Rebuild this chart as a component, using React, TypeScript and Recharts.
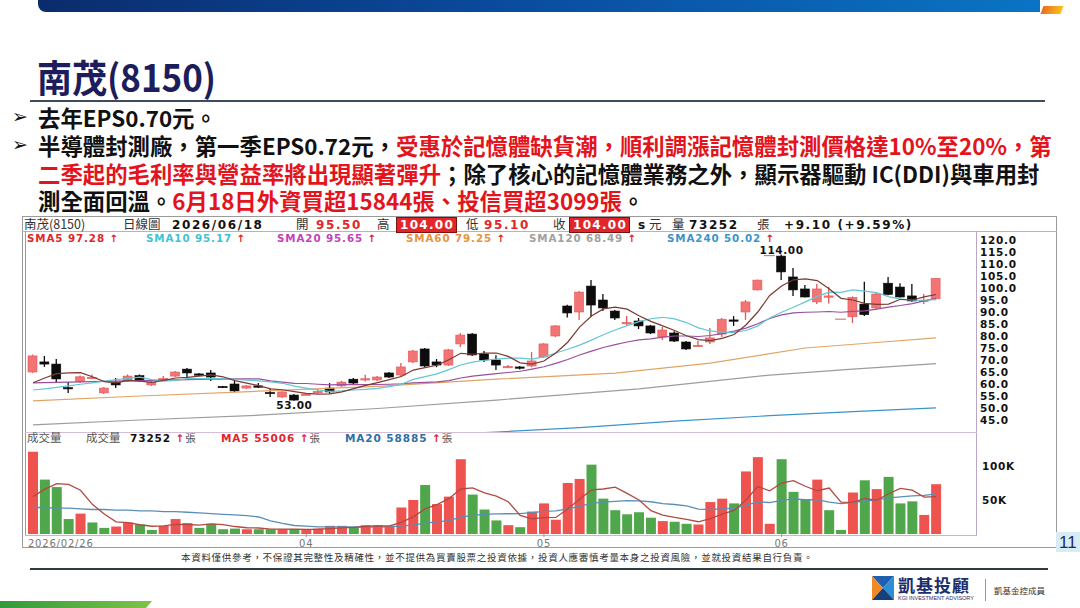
import React from "react";
import { ComposedChart, Bar, Line, XAxis, YAxis, Cell, ReferenceDot } from "recharts";

// trading days shown on the daily chart
const dates = [
  "2026/02/26",
  "2026/03/02", "2026/03/03", "2026/03/04", "2026/03/05", "2026/03/06",
  "2026/03/09", "2026/03/10", "2026/03/11", "2026/03/12", "2026/03/13",
  "2026/03/16", "2026/03/17", "2026/03/18", "2026/03/19", "2026/03/20",
  "2026/03/23", "2026/03/24", "2026/03/25", "2026/03/26", "2026/03/27",
  "2026/03/30", "2026/03/31",
  "2026/04/01", "2026/04/02", "2026/04/07", "2026/04/08", "2026/04/09",
  "2026/04/10", "2026/04/13", "2026/04/14", "2026/04/15", "2026/04/16",
  "2026/04/17", "2026/04/20", "2026/04/21", "2026/04/22", "2026/04/23",
  "2026/04/24", "2026/04/27", "2026/04/28", "2026/04/29", "2026/04/30",
  "2026/05/04", "2026/05/05", "2026/05/06", "2026/05/07", "2026/05/08",
  "2026/05/11", "2026/05/12", "2026/05/13", "2026/05/14", "2026/05/15",
  "2026/05/18", "2026/05/19", "2026/05/20", "2026/05/21", "2026/05/22",
  "2026/05/25", "2026/05/26", "2026/05/27", "2026/05/28", "2026/05/29",
  "2026/06/01", "2026/06/02", "2026/06/03", "2026/06/04", "2026/06/05",
  "2026/06/08", "2026/06/09", "2026/06/10", "2026/06/11", "2026/06/12",
  "2026/06/15", "2026/06/16", "2026/06/17", "2026/06/18",
];

const openP = [
  65, 69.2, 68.3, 58.5, 61, 62.5, 56.3, 60.8, 61.3, 63.5,
  59.6, 61.7, 63.3, 66.2, 64.2, 64.6, 59, 60, 58.3, 59.2,
  56.5, 54.6, 55.4, 55.6, 56.5, 58.3, 59.2, 62, 62, 61.7,
  64.6, 63.75, 69.2, 74.6, 69.2, 67.9, 76.7, 80.8, 72.5, 70,
  67, 67.1, 67.5, 71.25, 80, 92.5, 90, 100.8, 95, 90.4,
  85.2, 86.25, 84.2, 79.6, 81.25, 77.5, 76, 77.5, 80.8, 86.7,
  90, 99.2, 113.5, 113.3, 104.6, 99.6, 94.2, 96.3, 87, 88,
  93.3, 91.7, 102, 100.4, 96.7, 94.6, 95.5,
];
const highP = [
  72.3, 71.7, 70.4, 60.8, 63.5, 64, 58.8, 62.5, 64, 64,
  61.3, 63.3, 65.4, 66.7, 64.6, 65.8, 59.2, 61.3, 59.6, 60.4,
  58, 57, 55.8, 56, 58, 60.4, 61.3, 62.5, 63.9, 63.3,
  65, 68.75, 74.2, 75, 70.4, 74.6, 81.25, 81.25, 73.75, 72,
  67.9, 67.5, 73.3, 77, 84.5, 93, 98.75, 103.3, 97.5, 90.8,
  88.3, 87.5, 84.6, 83.75, 82, 77.9, 78, 83.3, 87.5, 88.3,
  95, 103.5, 113.5, 114, 108.3, 101.3, 101.7, 100.5, 87, 96.5,
  102.6, 98, 104.6, 102, 101.7, 97.5, 104,
];
const lowP = [
  64.6, 67.1, 60.4, 56.3, 60.4, 62, 55.8, 58.3, 61, 61,
  59.2, 61.3, 62.9, 62.9, 63.3, 61.3, 58.3, 56.7, 58, 58.3,
  54.6, 54.2, 53, 55.4, 56, 56, 58.8, 60, 61, 61.3,
  62.5, 62.9, 68.75, 67.1, 67, 67.5, 75.4, 71.7, 69.2, 65.8,
  66.7, 66, 67, 70.8, 79.6, 87.7, 86.7, 87.9, 90.4, 86.7,
  84.6, 82.9, 80.8, 78.3, 77.5, 74.2, 75.8, 76.7, 79.6, 84.2,
  86.7, 99, 113.5, 103.3, 96.7, 96, 93.3, 93.5, 87, 85.4,
  88.3, 91, 97, 96, 94.3, 93.3, 95.1,
];
const closeP = [
  71.7, 68.3, 62.1, 58.2, 63, 62.8, 58.3, 59.6, 63.3, 61.3,
  60.8, 62.3, 65, 64.6, 64, 62.9, 58.6, 57.1, 59.2, 58.8,
  56.1, 56.7, 53.3, 55.8, 56.9, 56.7, 60.8, 60.4, 62.2, 62.9,
  62.9, 67.1, 73.75, 67.5, 67.9, 74.2, 80.4, 72.1, 70, 67.9,
  67.3, 66.7, 69.6, 76.7, 84.2, 89.6, 98.3, 92.9, 91.7, 87.5,
  85.6, 84.2, 81.25, 82.5, 77.9, 74.6, 76.1, 79.2, 87, 86.25,
  94.2, 103.3, 113.5, 106.7, 99.2, 96.25, 99.6, 96.7, 87, 96.1,
  88.9, 97.5, 97.3, 96.25, 94.6, 94.9, 104,
];

const sma5 = [
  60.5, 62.5, 64.3, 64.6, 64.7, 63.0, 61.0, 60.5, 61.5, 61.2,
  60.7, 61.5, 62.5, 62.8, 63.3, 63.8, 63.0, 61.4, 60.4, 59.3,
  58.0, 57.6, 56.8, 56.1, 55.8, 55.9, 56.7, 58.1, 59.4, 60.6,
  61.8, 63.1, 65.8, 66.8, 67.8, 70.1, 72.8, 72.4, 72.9, 72.9,
  71.5, 68.8, 68.3, 69.6, 72.9, 77.4, 83.7, 88.3, 91.3, 92.0,
  91.2, 88.4, 86.1, 84.2, 82.3, 80.1, 78.5, 78.1, 79.0, 80.6,
  84.6, 90.0, 96.9, 100.8, 103.4, 103.8, 103.1, 99.7, 95.7, 95.0,
  93.6, 93.2, 93.3, 95.3, 95.0, 96.3, 97.28,
];
const sma10 = [
  57.5, 58.0, 58.6, 59.2, 59.9, 60.5, 61.2, 61.8, 62.3, 62.9,
  61.8, 61.2, 61.5, 62.2, 62.3, 62.2, 62.2, 62.0, 61.6, 61.3,
  60.9, 60.3, 59.1, 58.3, 57.5, 56.9, 57.1, 57.5, 57.8, 58.2,
  58.9, 59.9, 61.9, 63.1, 64.2, 66.0, 67.9, 69.1, 69.9, 70.4,
  70.8, 70.8, 70.4, 71.3, 72.9, 74.5, 76.2, 78.3, 80.5, 82.5,
  84.3, 86.0, 87.2, 87.8, 87.1, 85.6, 83.4, 82.1, 81.6, 81.5,
  82.3, 84.2, 87.5, 89.9, 92.0, 94.2, 96.5, 98.3, 98.2, 99.2,
  98.7, 98.1, 96.4, 95.4, 94.9, 94.9, 95.17,
];
const sma20 = [
  60.5, 60.6, 60.7, 60.8, 60.9, 61.0, 61.1, 61.2, 61.3, 61.4,
  61.5, 61.6, 61.7, 61.8, 61.9, 62.0, 62.0, 62.1, 62.1, 62.1,
  61.3, 60.8, 60.3, 60.2, 59.9, 59.6, 59.7, 59.7, 59.7, 59.8,
  59.9, 60.1, 60.5, 60.7, 60.9, 61.4, 62.5, 63.3, 63.8, 64.3,
  64.8, 65.3, 66.2, 67.2, 68.6, 70.2, 72.1, 73.7, 75.2, 76.4,
  77.5, 78.4, 78.8, 79.5, 80.0, 80.0, 79.8, 80.2, 81.0, 82.0,
  83.3, 85.1, 87.3, 88.8, 89.6, 89.9, 90.0, 90.2, 89.9, 90.3,
  90.5, 91.2, 92.0, 92.7, 93.5, 94.6, 95.65,
];
// long averages read at a few days: [day index, value]
const sma60Pts = [[0, 53], [9, 55], [19, 57], [29, 59], [39, 62], [49, 64.5], [57, 68.7], [65, 75], [71, 77.3], [76, 79.25]];
const sma120Pts = [[0, 43], [9, 45], [19, 47], [29, 49.8], [39, 53.3], [51, 58], [62, 63.7], [69, 66.2], [76, 68.49]];
const sma240Pts = [[0, 33], [14, 35], [29, 37.5], [39, 40], [46, 41.8], [54, 44.5], [62, 46.8], [69, 48.5], [76, 50.02]];

// volume in thousands of lots
const volume = [
  121, 80, 69, 22, 30, 17, 9, 11, 17, 14,
  6, 12, 22, 16, 9, 15, 7, 8, 7, 7,
  7, 7, 7, 6, 8, 12, 12, 10, 13, 13,
  11, 39, 50, 72, 44, 55, 110, 58, 36, 20,
  13, 10, 33, 45, 21, 75, 81, 102, 52, 35,
  29, 32, 24, 19, 18, 15, 14, 47, 52, 45,
  92, 113, 15, 110, 62, 51, 80, 35, 6, 61,
  79, 66, 84, 45, 48, 28, 73.252,
];
const volDir = [
  "r", "g", "g", "g", "r", "g", "g", "r", "r", "g",
  "g", "r", "r", "r", "g", "g", "g", "g", "r", "g",
  "g", "r", "g", "r", "r", "r", "r", "g", "r", "r",
  "r", "r", "r", "g", "r", "r", "r", "g", "g", "g",
  "r", "g", "r", "r", "r", "r", "r", "g", "g", "g",
  "g", "g", "g", "r", "g", "g", "r", "r", "r", "g",
  "r", "r", "r", "g", "g", "g", "r", "g", "g", "r",
  "g", "r", "g", "g", "g", "r", "r",
];
const volMa5 = [
  55, 66, 74, 73, 64.4, 43.6, 29.4, 17.8, 16.8, 13.6,
  11.4, 12, 14.2, 14, 13, 14.8, 13.8, 11, 9.2, 8.8,
  7.2, 7.2, 7, 6.8, 7, 8, 9, 9.6, 11, 12,
  11.8, 17.2, 25.2, 37, 43.2, 52, 66.2, 67.8, 60.6, 55.8,
  47.4, 27.4, 22.4, 24.2, 24.4, 36.8, 51, 64.8, 66.2, 69,
  59.8, 50, 34.4, 27.8, 24.4, 21.6, 18, 22.6, 29.2, 34.6,
  50, 69.8, 63.4, 75, 78.4, 70.2, 63.6, 67.6, 46.8, 46.6,
  52.2, 49.4, 59.2, 67, 64.4, 54.2, 55.006,
];
const volMa20 = [
  39, 39, 38, 38, 37, 36, 36, 35, 35, 34,
  34, 33, 33, 32, 31, 30, 29, 28, 27, 25,
  19.3, 15.6, 12.5, 11.7, 10.6, 10.4, 10.5, 10.5, 10.3, 10.2,
  10.5, 11.8, 13.2, 16, 17.8, 19.8, 24.9, 27.4, 28.9, 29.5,
  29.8, 30, 31.3, 33.2, 33.9, 37, 40.5, 45, 47, 48.1,
  49, 48.7, 47.4, 44.7, 43.4, 41.4, 36.6, 36, 36.9, 38.1,
  42, 47.2, 46.3, 49.6, 51.6, 50.4, 50.4, 47, 44.7, 46,
  48.5, 50.2, 53.2, 54.5, 56, 56.7, 58.885,
];

const priceTicks = [45, 50, 55, 60, 65, 70, 75, 80, 85, 90, 95, 100, 105, 110, 115, 120];
const volTicks = [50, 100];
const monthTicks = ["2026/02/26", "2026/04/01", "2026/05/04", "2026/06/01"];
const monthLabels = ["2026/02/26", "04", "05", "06"];

const maLegend = [
  { name: "SMA5", value: "97.28", color: "#e0262a", left: 27 },
  { name: "SMA10", value: "95.17", color: "#3fc3d3", left: 146 },
  { name: "SMA20", value: "95.65", color: "#c23fb8", left: 277 },
  { name: "SMA60", value: "79.25", color: "#e8923e", left: 406 },
  { name: "SMA120", value: "68.49", color: "#a0a0a0", left: 529 },
  { name: "SMA240", value: "50.02", color: "#3a94c8", left: 667 },
];

const toMap = (pts: number[][]) => new Map(pts.map(([i, v]) => [i, v]));
const m60 = toMap(sma60Pts);
const m120 = toMap(sma120Pts);
const m240 = toMap(sma240Pts);

const rows = dates.map((date, i) => ({
  date,
  open: openP[i],
  high: highP[i],
  low: lowP[i],
  close: closeP[i],
  sma5: sma5[i],
  sma10: sma10[i],
  sma20: sma20[i],
  sma60: m60.get(i),
  sma120: m120.get(i),
  sma240: m240.get(i),
  vol: volume[i],
  vma5: volMa5[i],
  vma20: volMa20[i],
}));

const chartFont = '"DejaVu Sans", Verdana, sans-serif';
const cjkFont = '"Noto Sans CJK TC", "Noto Sans", sans-serif';
const RED = "#e3141c";

function Candle(props: any) {
  const { x, y, width, height, payload } = props;
  const { open, close, high, low } = payload;
  const up = close >= open;
  const cx = x + width / 2;
  const span = high - low;
  if (!(span > 0)) {
    return <line x1={x - 1} x2={x + width + 1} y1={y} y2={y} stroke="#c98080" strokeWidth={1.2} />;
  }
  const h = Math.abs(height);
  const top = Math.min(y, y + height);
  const k = h / span;
  const py = (p: number) => top + (high - p) * k;
  const bTop = py(Math.max(open, close));
  const bh = Math.max(py(Math.min(open, close)) - bTop, 1.3);
  const stroke = up ? "#e4575a" : "#0c0c0c";
  return (
    <g>
      <line x1={cx} x2={cx} y1={top} y2={top + h} stroke={stroke} strokeWidth={1.3} />
      <rect x={x} y={bTop} width={width} height={bh} fill={up ? "#f27474" : "#0c0c0c"} stroke={stroke} strokeWidth={0.6} />
    </g>
  );
}

function PriceTick(p: any) {
  return (
    <text x={p.x + 30} y={p.y + 4} fontSize={10.5} fontWeight="bold" fontFamily={chartFont} fill="#111" letterSpacing={0.7}>
      {Number(p.payload.value).toFixed(1)}
    </text>
  );
}

function VolTick(p: any) {
  return (
    <text x={p.x + 32} y={p.y + 4} fontSize={10.5} fontWeight="bold" fontFamily={chartFont} fill="#111" letterSpacing={0.7}>
      {p.payload.value}K
    </text>
  );
}

function DateTick(p: any) {
  const i = monthTicks.indexOf(p.payload.value);
  const first = i === 0;
  return (
    <g>
      {!first && <line x1={p.x} x2={p.x} y1={p.y - 8} y2={p.y - 5} stroke="#999" />}
      <text x={first ? p.x - 5 : p.x} y={p.y + 5} textAnchor={first ? "start" : "middle"} fontSize={10} fontFamily={chartFont} fill="#777" letterSpacing={0.8}>
        {monthLabels[i]}
      </text>
    </g>
  );
}

const abs = (left: number, top: number, extra: React.CSSProperties = {}): React.CSSProperties => ({
  position: "absolute", left, top, whiteSpace: "nowrap", lineHeight: 1, ...extra,
});

function Arrow() {
  return <span style={{ color: "#e0262a" }}>↑</span>;
}

export default function App() {
  const hdr: React.CSSProperties = { fontFamily: chartFont, fontWeight: "bold", fontSize: 12, letterSpacing: 1.6 };
  const hdrCjk: React.CSSProperties = { fontFamily: cjkFont, fontSize: 12.5, color: "#333" };
  const box: React.CSSProperties = { ...hdr, background: "#e1262b", color: "#fff", padding: "1px 2px 1px 3px", letterSpacing: 1.3, border: "1px solid #7a1010" };
  const body: React.CSSProperties = { fontFamily: cjkFont, fontSize: 22.4, fontWeight: "bold", color: "#111" };
  const arrowStyle: React.CSSProperties = { fontFamily: '"DejaVu Sans"', fontSize: 19, color: "#111" };
  return (
    <div style={{ position: "absolute", left: 0, top: 0, width: 1080, height: 608, background: "#fff", overflow: "hidden" }}>
      {/* top banner */}
      <div style={{ position: "absolute", left: 38, top: 0, width: 1002, height: 12, borderBottomLeftRadius: 8, background: "linear-gradient(90deg,#0b2c6c 0%,#0a4a9c 45%,#0a74c4 100%)" }} />
      <div style={{ position: "absolute", left: 1042, top: 6, width: 20, height: 8, background: "linear-gradient(90deg,#ee6a1e,#f7c21e)", transform: "skewX(-20deg)" }} />

      {/* title */}
      <div style={abs(37, 56, { fontFamily: cjkFont, fontSize: 35, fontWeight: "bold", color: "#1d1d5c", transform: "scaleY(1.08)", transformOrigin: "left top" })}>南茂(8150)</div>
      <div style={{ position: "absolute", left: 30, top: 100, width: 1015, height: 1.5, background: "#3d4b5c" }} />

      {/* bullets */}
      <div style={abs(12, 107, arrowStyle)}>➢</div>
      <div style={abs(12, 135, arrowStyle)}>➢</div>
      <div style={abs(38, 106, body)}>去年EPS0.70元。</div>
      <div style={abs(38, 134, body)}>
        半導體封測廠，第一季EPS0.72元，<span style={{ color: RED }}>受惠於記憶體缺貨潮，順利調漲記憶體封測價格達10%至20%，第</span>
      </div>
      <div style={abs(38, 162, body)}>
        <span style={{ color: RED }}>二季起的毛利率與營益率將出現顯著彈升</span>；除了核心的記憶體業務之外，顯示器驅動 IC(DDI)與車用封
      </div>
      <div style={abs(38, 189, body)}>
        測全面回溫。<span style={{ color: RED }}>6月18日外資買超15844張、投信買超3099張</span>。
      </div>

      {/* chart frame */}
      <div style={{ position: "absolute", left: 22, top: 216, width: 1035, height: 332, border: "1px solid #9a9a9a", boxSizing: "border-box" }} />
      <div style={{ position: "absolute", left: 22, top: 231, width: 1035, height: 1, background: "#b5b5b5" }} />
      <div style={{ position: "absolute", left: 25, top: 231, width: 1, height: 305, background: "#9a9a9a" }} />
      <div style={{ position: "absolute", left: 976, top: 231, width: 1, height: 305, background: "#b9a6c4" }} />
      <div style={{ position: "absolute", left: 25, top: 432, width: 952, height: 1, background: "#d4bfd8" }} />
      <div style={{ position: "absolute", left: 25, top: 535, width: 952, height: 1, background: "#c9b4d0" }} />

      {/* header row */}
      <div style={abs(24, 218, hdrCjk)}>南茂(8150)</div>
      <div style={abs(123, 218, hdrCjk)}>日線圖</div>
      <div style={abs(172, 219, { ...hdr, color: "#111" })}>2026/06/18</div>
      <div style={abs(296, 218, hdrCjk)}>開</div>
      <div style={abs(316, 219, { ...hdr, color: "#e0262a" })}>95.50</div>
      <div style={abs(377, 218, hdrCjk)}>高</div>
      <div style={abs(396, 217, box)}>104.00</div>
      <div style={abs(466, 218, hdrCjk)}>低</div>
      <div style={abs(484, 219, { ...hdr, color: "#e0262a" })}>95.10</div>
      <div style={abs(553, 218, hdrCjk)}>收</div>
      <div style={abs(569, 217, box)}>104.00</div>
      <div style={abs(638, 219, { ...hdr, color: "#111" })}>s</div>
      <div style={abs(649, 218, hdrCjk)}>元</div>
      <div style={abs(672, 218, hdrCjk)}>量</div>
      <div style={abs(689, 219, { ...hdr, color: "#111" })}>73252</div>
      <div style={abs(757, 218, hdrCjk)}>張</div>
      <div style={abs(784, 219, { ...hdr, color: "#111" })}>+9.10 (+9.59%)</div>

      {/* moving average legend */}
      {maLegend.map((m) => (
        <div key={m.name} style={abs(m.left, 233, { fontFamily: chartFont, fontWeight: "bold", fontSize: 10.3, letterSpacing: 0.9, color: m.color })}>
          {m.name} {m.value} <Arrow />
        </div>
      ))}

      {/* price panel */}
      <div style={{ position: "absolute", left: 0, top: 228 }}>
        <ComposedChart width={1080} height={204} data={rows} margin={{ top: 0, right: 78, bottom: 0, left: 27 }}>
          <XAxis dataKey="date" hide />
          <YAxis orientation="right" width={60} domain={[40, 125]} ticks={priceTicks} allowDataOverflow axisLine={false} tickLine={false} tick={<PriceTick />} interval={0} />
          <Line dataKey="sma240" stroke="#3a94c8" strokeWidth={1.2} dot={false} connectNulls isAnimationActive={false} />
          <Line dataKey="sma120" stroke="#9d9d9d" strokeWidth={1.2} dot={false} connectNulls isAnimationActive={false} />
          <Line dataKey="sma60" stroke="#e0a466" strokeWidth={1.2} dot={false} connectNulls isAnimationActive={false} />
          <Line dataKey="sma20" stroke="#9b4f9e" strokeWidth={1.2} dot={false} isAnimationActive={false} />
          <Line dataKey="sma10" stroke="#63c6d2" strokeWidth={1.2} dot={false} isAnimationActive={false} />
          <Line dataKey="sma5" stroke="#7c3a32" strokeWidth={1.2} dot={false} isAnimationActive={false} />
          <Bar dataKey={(d: any) => [d.low, d.high]} barSize={9} shape={<Candle />} isAnimationActive={false} />
          <ReferenceDot x={dates[63]} y={114} r={0} label={{ value: "114.00", position: "top", offset: 0, fill: "#111", fontSize: 10.5, fontWeight: "bold", fontFamily: chartFont, letterSpacing: 0.6 }} />
          <ReferenceDot x={dates[22]} y={53} r={0} label={{ value: "53.00", position: "bottom", offset: 1, fill: "#111", fontSize: 10.5, fontWeight: "bold", fontFamily: chartFont, letterSpacing: 0.6 }} />
        </ComposedChart>
      </div>

      {/* volume legend */}
      <div style={abs(27, 432, { fontFamily: cjkFont, fontSize: 11.5, color: "#555" })}>成交量</div>
      <div style={abs(86, 432, { fontFamily: cjkFont, fontSize: 11.5, color: "#555" })}>成交量</div>
      <div style={abs(130, 433, { fontFamily: chartFont, fontWeight: "bold", fontSize: 10.5, letterSpacing: 0.9, color: "#111" })}>
        73252 <Arrow /><span style={{ fontFamily: cjkFont, fontWeight: 400, color: "#555" }}>張</span>
      </div>
      <div style={abs(221, 433, { fontFamily: chartFont, fontWeight: "bold", fontSize: 10.5, letterSpacing: 0.9, color: "#e0262a" })}>
        MA5 55006 <Arrow /><span style={{ fontFamily: cjkFont, fontWeight: 400, color: "#555" }}>張</span>
      </div>
      <div style={abs(345, 433, { fontFamily: chartFont, fontWeight: "bold", fontSize: 10.5, letterSpacing: 0.9, color: "#2f6fa3" })}>
        MA20 58885 <Arrow /><span style={{ fontFamily: cjkFont, fontWeight: 400, color: "#555" }}>張</span>
      </div>

      {/* volume panel */}
      <div style={{ position: "absolute", left: 0, top: 432 }}>
        <ComposedChart width={1080} height={116} data={rows} margin={{ top: 0, right: 78, bottom: 0, left: 27 }}>
          <XAxis dataKey="date" ticks={monthTicks} interval={0} height={14} axisLine={false} tickLine={false} tick={<DateTick />} />
          <YAxis orientation="right" width={60} domain={[0, 150]} ticks={volTicks} axisLine={false} tickLine={false} tick={<VolTick />} />
          <Bar dataKey="vol" barSize={10} isAnimationActive={false}>
            {rows.map((r, i) => (
              <Cell key={r.date} fill={volDir[i] === "r" ? "#ef5350" : "#4fa64b"} />
            ))}
          </Bar>
          <Line dataKey="vma20" stroke="#5a8fb5" strokeWidth={1.3} dot={false} isAnimationActive={false} />
          <Line dataKey="vma5" stroke="#b24a40" strokeWidth={1.3} dot={false} isAnimationActive={false} />
        </ComposedChart>
      </div>

      {/* page number */}
      <div style={{ position: "absolute", left: 1056, top: 532, width: 24, height: 20, background: "#d8ecf7" }} />
      <div style={abs(1059, 534, { fontFamily: '"Liberation Sans Narrow", "Liberation Sans", sans-serif', fontSize: 17, color: "#1d2d5c" })}>11</div>

      {/* disclaimer and footer */}
      <div style={abs(181, 553, { fontFamily: cjkFont, fontSize: 9.5, letterSpacing: 0.7, color: "#333" })}>
        本資料僅供參考，不保證其完整性及精確性，並不提供為買賣股票之投資依據，投資人應審慎考量本身之投資風險，並就投資結果自行負責。
      </div>
      <div style={{ position: "absolute", left: 30, top: 568, width: 1018, height: 1.5, background: "#2e3a3e" }} />

      <svg style={{ position: "absolute", left: 872, top: 576 }} width={24} height={26}>
        <polygon points="0,0 22,0 11,12" fill="#1f5fae" />
        <polygon points="0,0 11,12 0,24" fill="#f08a24" />
        <polygon points="22,0 22,24 11,12" fill="#2c8fd6" />
        <polygon points="0,24 11,12 22,24" fill="#173f7a" />
      </svg>
      <div style={abs(898, 576, { fontFamily: cjkFont, fontSize: 17, fontWeight: "bold", color: "#1c2f6b", letterSpacing: 1 })}>凱基投顧</div>
      <div style={abs(898, 596, { fontFamily: '"Liberation Sans"', fontSize: 5.5, color: "#1c2f6b" })}>KGI INVESTMENT ADVISORY</div>
      <div style={{ position: "absolute", left: 985, top: 579, width: 1, height: 22, background: "#999" }} />
      <div style={abs(994, 586, { fontFamily: cjkFont, fontSize: 8.5, color: "#333" })}>凱基金控成員</div>

      <svg style={{ position: "absolute", left: 0, top: 601 }} width={160} height={7}>
        <defs>
          <linearGradient id="gb" x1="0" x2="1" y1="0" y2="0">
            <stop offset="0" stopColor="#2f9a3c" />
            <stop offset="1" stopColor="#7fc346" />
          </linearGradient>
        </defs>
        <polygon points="0,0 152,0 146,7 0,7" fill="url(#gb)" />
      </svg>
    </div>
  );
}
